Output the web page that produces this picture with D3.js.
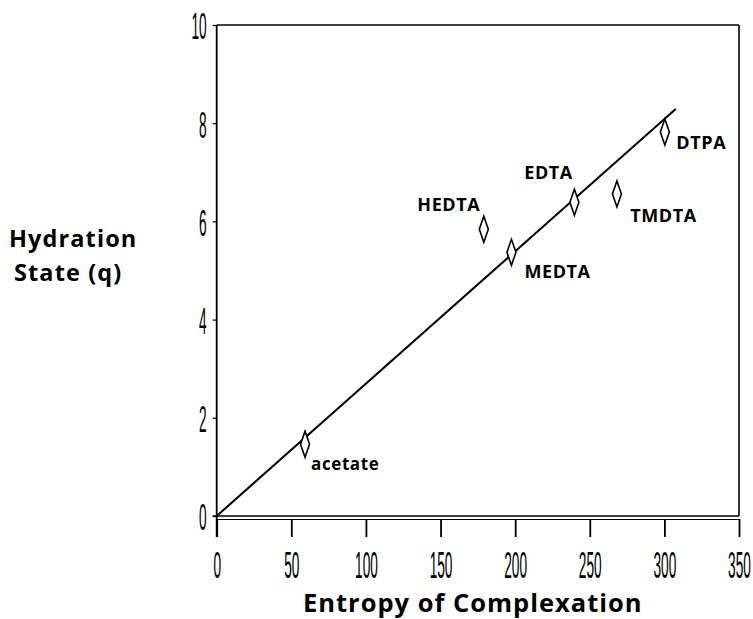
<!DOCTYPE html>
<html>
<head>
<meta charset="utf-8">
<script src="https://cdn.jsdelivr.net/npm/d3@7"></script>
<style>
  html, body { margin: 0; padding: 0; background: #fff; }
  svg { display: block; }
</style>
</head>
<body>
<svg id="chart" width="753" height="619"></svg>
<script>
// ---- data ----
const ligands = ["acetate", "HEDTA", "MEDTA", "EDTA", "TMDTA", "DTPA"];
const entropy = [59.2, 179, 197.5, 239.7, 268.2, 300.3];
const hydration = [1.46, 5.84, 5.37, 6.39, 6.56, 7.82];
const fitX = [0, 307.6];
const fitY = [0, 8.29];
const xTicks = [0, 50, 100, 150, 200, 250, 300, 350];
const yTicks = [0, 2, 4, 6, 8, 10];

// ---- layout ----
const svg = d3.select("#chart");
const x = d3.scaleLinear().domain([0, 350]).range([216.7, 739]);
const y = d3.scaleLinear().domain([0, 10]).range([516, 25]);

const tickFont = "'Liberation Sans', Arial, sans-serif";
const labelFont = "'Open Sans', 'Noto Sans', sans-serif";
const sx = 0.38;

// frame: top and right
svg.append("line").attr("x1", x(0)).attr("x2", x(350)).attr("y1", y(10)).attr("y2", y(10))
  .attr("stroke", "#000").attr("stroke-width", 1.6);
svg.append("line").attr("x1", x(350)).attr("x2", x(350)).attr("y1", y(10)).attr("y2", y(0))
  .attr("stroke", "#000").attr("stroke-width", 1.6);

// x axis
const gx = svg.append("g").attr("transform", `translate(0,${y(0)})`)
  .call(d3.axisBottom(x).tickValues(xTicks).tickSizeInner(21).tickSizeOuter(0).tickFormat(d3.format("d")));
gx.select(".domain").attr("stroke-width", 1.6).attr("d", `M${x(0)-4},0H${x(350)}`);
gx.selectAll(".tick line").attr("stroke-width", 1.8).attr("y1", 3);
gx.selectAll(".tick text")
  .attr("x", 0).attr("y", 0).attr("dy", null)
  .attr("transform", `translate(0,62) scale(${sx},1)`)
  .attr("font-family", tickFont).attr("font-size", 36).attr("fill", "#000");
// second (double) baseline
svg.append("line").attr("x1", x(0)).attr("x2", x(350)).attr("y1", y(0) + 3.5).attr("y2", y(0) + 3.5)
  .attr("stroke", "#000").attr("stroke-width", 1);

// y axis
const gy = svg.append("g").attr("transform", `translate(${x(0)},0)`)
  .call(d3.axisLeft(y).tickValues(yTicks).tickSizeInner(4).tickSizeOuter(0).tickFormat(d3.format("d")));
gy.select(".domain").attr("stroke-width", 1.8).attr("d", `M0,${y(10)}V${y(0) + 21}`);
gy.selectAll(".tick line").attr("stroke-width", 1.2);
gy.selectAll(".tick text")
  .attr("x", 0).attr("y", 0).attr("dy", "0.36em")
  .attr("transform", `translate(-10,1) scale(${sx},1)`)
  .attr("text-anchor", "end")
  .attr("font-family", tickFont).attr("font-size", 36).attr("fill", "#000");
svg.selectAll(".domain").attr("stroke", "#000");

// fit line
svg.append("line")
  .attr("x1", x(fitX[0])).attr("y1", y(fitY[0]))
  .attr("x2", x(fitX[1])).attr("y2", y(fitY[1]))
  .attr("stroke", "#000").attr("stroke-width", 2);

// points
const pts = ligands.map((n, i) => ({ name: n, ex: entropy[i], q: hydration[i] }));
svg.append("g").selectAll("path").data(pts).join("path")
  .attr("transform", d => `translate(${x(d.ex)},${y(d.q)})`)
  .attr("d", "M0,-13L4.5,0L0,13L-4.5,0Z")
  .attr("fill", "#fff").attr("stroke", "#000").attr("stroke-width", 1.6);

// point labels (offsets in px from the point)
const labelPlace = {
  acetate: { dx: 6, dy: 26, anchor: "start" },
  HEDTA: { dx: -3.5, dy: -18.5, anchor: "end" },
  MEDTA: { dx: 13, dy: 25.5, anchor: "start" },
  EDTA: { dx: -1.5, dy: -23, anchor: "end" },
  TMDTA: { dx: 13.3, dy: 28.5, anchor: "start" },
  DTPA: { dx: 11.5, dy: 17, anchor: "start" }
};
svg.append("g").selectAll("text").data(pts).join("text")
  .attr("x", d => x(d.ex) + labelPlace[d.name].dx)
  .attr("y", d => y(d.q) + labelPlace[d.name].dy)
  .attr("text-anchor", d => labelPlace[d.name].anchor)
  .attr("font-family", labelFont).attr("font-weight", 700)
  .attr("font-size", d => d.name === "acetate" ? 17 : 18)
  .attr("letter-spacing", 0.6)
  .attr("fill", "#000")
  .text(d => d.name);

// axis titles
svg.append("text").attr("x", 303).attr("y", 612)
  .attr("font-family", labelFont).attr("font-weight", 700).attr("font-size", 25.5)
  .attr("letter-spacing", 1.0).attr("fill", "#000")
  .text("Entropy of Complexation");
svg.append("text").attr("x", 9).attr("y", 247)
  .attr("font-family", labelFont).attr("font-weight", 700).attr("font-size", 23.5)
  .attr("letter-spacing", 1.1).attr("fill", "#000")
  .text("Hydration");
svg.append("text").attr("x", 14).attr("y", 281)
  .attr("font-family", labelFont).attr("font-weight", 700).attr("font-size", 23.5)
  .attr("letter-spacing", 1.1).attr("fill", "#000")
  .text("State (q)");
</script>
</body>
</html>
